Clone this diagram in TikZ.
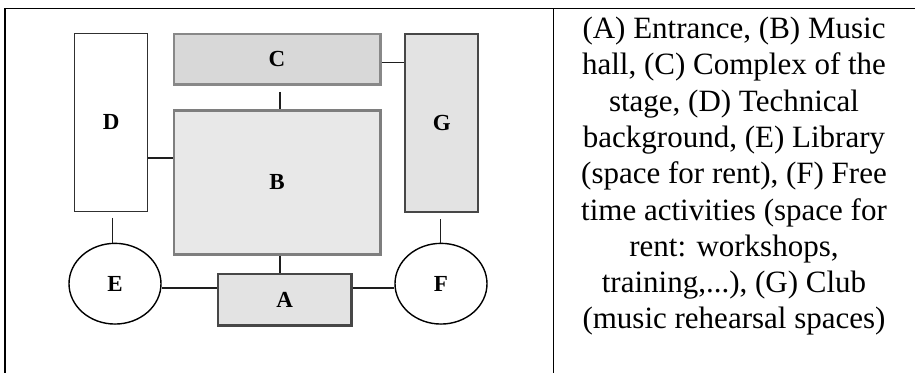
\documentclass[tikz,border=0pt]{standalone}
\usepackage{fontspec}
\setmainfont{Liberation Serif}
\usetikzlibrary{shapes.geometric}

\definecolor{edgeD}{HTML}{303030}
\definecolor{fillC}{HTML}{D8D8D8}
\definecolor{edgeC}{HTML}{888888}
\definecolor{fillB}{HTML}{E8E8E8}
\definecolor{edgeB}{HTML}{7E7E7E}
\definecolor{fillG}{HTML}{E3E3E3}
\definecolor{edgeG}{HTML}{474747}
\definecolor{linkcol}{HTML}{1E1E1E}

\begin{document}
\begin{tikzpicture}[x=1pt,y=-1pt,
  room/.style={draw, rectangle, inner sep=0pt, anchor=north west,
    font=\fontsize{23}{23}\selectfont\bfseries},
  hall/.style={draw=black, fill=white, ellipse, inner sep=0pt, line width=1.4pt,
    minimum width=92pt, minimum height=80.7pt,
    font=\fontsize{23}{23}\selectfont\bfseries},
  link/.style={draw=linkcol, line width=1.4pt},
  rule/.style={draw=black},
  legend/.style={anchor=base, inner sep=0pt,
    font=\fontsize{31}{36.5}\selectfont}]

\useasboundingbox (0,0) rectangle (915,373);

% table frame
\draw[rule, line width=1.2pt] (4,8.5) -- (915,8.5);
\draw[rule, line width=1.8pt] (5,8) -- (5,373);
\draw[rule, line width=1.5pt] (553.3,8.5) -- (553.3,373);

% rooms
\node[room, draw=edgeD, fill=white, line width=1.3pt,
  minimum width=73pt, minimum height=178pt] (d) at (74,32.5) {D};
\node[room, draw=edgeC, fill=fillC, line width=2.5pt,
  minimum width=206.5pt, minimum height=50.5pt] (c) at (172.5,32.5) {C};
\node[room, draw=edgeG, fill=fillG, line width=2.4pt,
  minimum width=73pt, minimum height=178.5pt] (g) at (404,32.5) {G};
\node[room, draw=edgeB, fill=fillB, line width=2.7pt,
  minimum width=206.3pt, minimum height=144pt] (b) at (172.5,109) {B};
\node[room, draw=edgeG, fill=fillG, line width=2.6pt,
  minimum width=133.3pt, minimum height=51.3pt] (a) at (216.7,272.7) {A};
\node[hall] (e) at (115,283.7) {E};
\node[hall] (f) at (441,283.7) {F};

% connections
\coordinate (axis) at (280,0);
\coordinate (dbrow) at (0,158);
\coordinate (cgrow) at (0,62.5);
\coordinate (ecol) at (112.7,0);
\coordinate (fcol) at (440.3,0);
\coordinate (frow) at (0,288);

\draw[link, shorten <=6.3pt] (c.south -| axis) -- (b.north -| axis);
\draw[link] (b.south -| axis) -- (a.north -| axis);
\draw[link] (d.east |- dbrow) -- (b.west |- dbrow);
\draw[link] (c.east |- cgrow) -- (g.west |- cgrow);
\draw[link, shorten <=6pt] (d.south -| ecol) -- (e.north -| ecol);
\draw[link, shorten <=5.7pt] (g.south -| fcol) -- (f.north -| fcol);
\draw[link] (e.east |- frow) -- (a.west |- frow);
\draw[link] (a.east |- frow) -- (f.west |- frow);

% legend, one node per line, baselines 36.3pt apart
\node[legend] (t1) at (734, 38.5)  {(A) Entrance, (B) Music};
\node[legend] (t2) at (734, 74.8)  {hall, (C) Complex of the};
\node[legend] (t3) at (734, 111.1) {stage, (D) Technical};
\node[legend] (t4) at (734, 147.4) {background, (E) Library};
\node[legend] (t5) at (734, 183.7) {(space for rent), (F) Free};
\node[legend] (t6) at (734, 220.0) {time activities (space for};
\node[legend] (t7) at (734, 256.3) {rent: workshops,};
\node[legend] (t8) at (734, 292.6) {training,...), (G) Club};
\node[legend] (t9) at (734, 328.9) {(music rehearsal spaces)};

\end{tikzpicture}
\end{document}
